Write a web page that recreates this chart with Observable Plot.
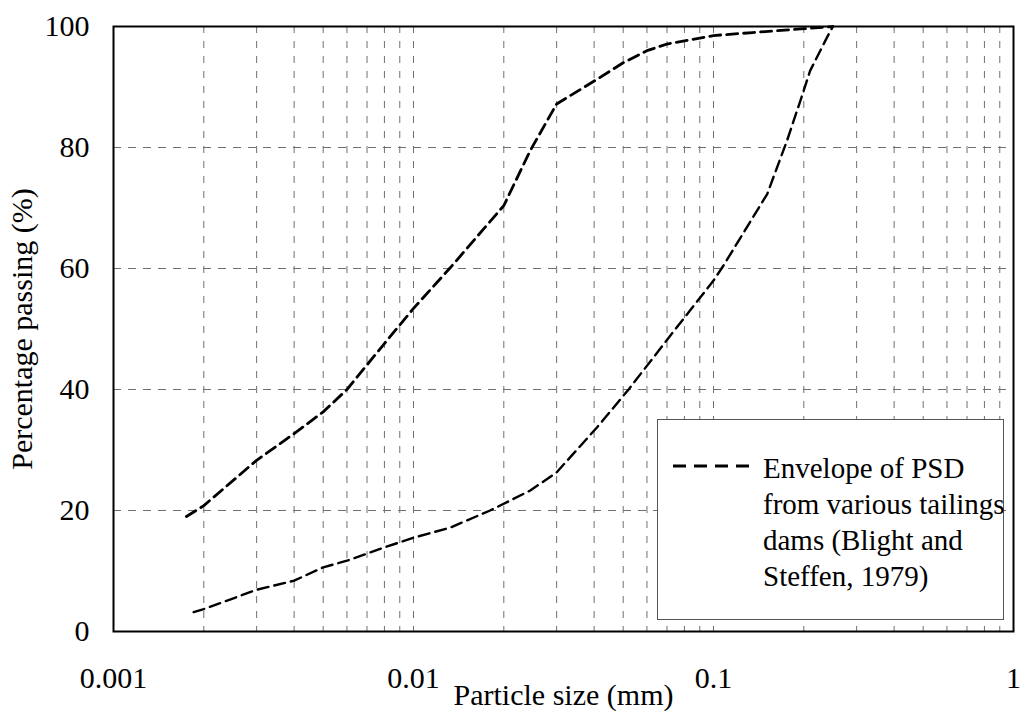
<!DOCTYPE html>
<html>
<head>
<meta charset="utf-8">
<script src="https://cdn.jsdelivr.net/npm/d3@7"></script>
<script src="https://cdn.jsdelivr.net/npm/@observablehq/plot@0.6"></script>
<style>
  html, body { margin: 0; padding: 0; background: white; }
  #wrap { position: relative; width: 1020px; height: 713px; font-family: 'Liberation Serif', Tinos, 'Times New Roman', Times, serif; }
  #wrap svg text { font-family: 'Liberation Serif', Tinos, 'Times New Roman', Times, serif; }
  #legend { position: absolute; left: 657px; top: 419px; width: 347px; height: 201px; border: 1px solid #555; background: white; box-sizing: border-box; }
  #legend svg { position: absolute; left: 14px; top: 43px; }
  #legend .txt { position: absolute; left: 105px; top: 30px; font-size: 29px; line-height: 36px; color: black; white-space: nowrap; font-family: 'Liberation Serif', Tinos, 'Times New Roman', Times, serif; }
</style>
</head>
<body>
<div id="wrap"></div>
<script>
// Fine (upper) envelope of PSD
const fineSize    = [0.00175, 0.002, 0.003, 0.004, 0.005, 0.006, 0.008, 0.01, 0.0133, 0.02, 0.0245, 0.03, 0.041, 0.05, 0.06, 0.07, 0.1, 0.135, 0.195, 0.25];
const finePassing = [19.0,    20.8,  28.3,  32.7,  36.3,  40.0,  47.6,  53.4, 60.2,   70.4, 79.5,   87.2, 91.3,  94.0, 96.0, 97.1, 98.5, 99.0, 99.6, 100];
// Coarse (lower) envelope of PSD
const coarseSize    = [0.00185, 0.002, 0.003, 0.004, 0.005, 0.006, 0.008, 0.01, 0.0133, 0.018, 0.0245, 0.03, 0.041, 0.0523, 0.071, 0.1, 0.108, 0.151, 0.176, 0.195, 0.21, 0.239, 0.25];
const coarsePassing = [3.2,     3.7,   6.9,   8.4,   10.6,  11.7,  13.9,  15.5, 17.2,   20.0,  23.3,   26.3, 33.8,  40.1,   48.6,  58.0, 60.5, 72.3, 81.2, 87.8, 92.7, 98.2, 100];

const xTickValues = [0.001, 0.01, 0.1, 1];
const xTickLabels = ["0.001", "0.01", "0.1", "1"];
const yTickValues = [0, 20, 40, 60, 80, 100];
const gridXValues = [0.002,0.003,0.004,0.005,0.006,0.007,0.008,0.009,0.01,
                     0.02,0.03,0.04,0.05,0.06,0.07,0.08,0.09,0.1,
                     0.2,0.3,0.4,0.5,0.6,0.7,0.8,0.9];
const gridYValues = [20, 40, 60, 80];

const fine = fineSize.map((s, i) => ({size: s, pass: finePassing[i]}));
const coarse = coarseSize.map((s, i) => ({size: s, pass: coarsePassing[i]}));

const serif = "'Liberation Serif', Tinos, 'Times New Roman', Times, serif";

const chart = Plot.plot({
  width: 1020,
  height: 713,
  marginLeft: 113,
  marginRight: 7,
  marginTop: 26,
  marginBottom: 82,
  style: {fontFamily: serif, fontSize: "29px", color: "black", background: "white", overflow: "visible"},
  x: {type: "log", domain: [0.001, 1]},
  y: {domain: [0, 100]},
  marks: [
    Plot.ruleX(gridXValues, {stroke: "#707070", strokeWidth: 1, strokeDasharray: "7,8"}),
    Plot.ruleY(gridYValues, {stroke: "#707070", strokeWidth: 1, strokeDasharray: "8,7"}),
    Plot.line(fine, {x: "size", y: "pass", stroke: "black", strokeWidth: 2.8, strokeDasharray: "11,6"}),
    Plot.line(coarse, {x: "size", y: "pass", stroke: "black", strokeWidth: 2.4, strokeDasharray: "11,6"}),
    Plot.frame({stroke: "black", strokeWidth: 2}),
    Plot.axisX(xTickValues, {tickSize: 0, tickPadding: 35, fontSize: 30,
      tickFormat: (d) => xTickLabels[xTickValues.indexOf(d)],
      label: "Particle size (mm)", labelAnchor: "center", labelArrow: "none", labelOffset: 73}),
    Plot.axisY(yTickValues, {tickSize: 0, tickPadding: 24, fontSize: 30,
      label: "Percentage passing (%)", labelAnchor: "center", labelArrow: "none", labelOffset: 103})
  ]
});

const wrap = document.getElementById("wrap");
wrap.appendChild(chart);

const legend = document.createElement("div");
legend.id = "legend";
legend.innerHTML = `
  <svg width="84" height="6"><line x1="1" y1="3" x2="81" y2="3" stroke="black" stroke-width="3" stroke-dasharray="13,8"/></svg>
  <div class="txt">Envelope of PSD<br>from various tailings<br>dams (Blight and<br>Steffen, 1979)</div>`;
wrap.appendChild(legend);
</script>
</body>
</html>
